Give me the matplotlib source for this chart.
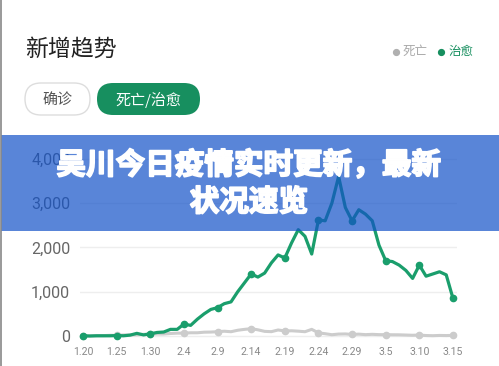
import numpy as np
import matplotlib.pyplot as plt
import matplotlib.patheffects as pe
from matplotlib.patches import FancyBboxPatch, Rectangle

plt.rcParams['font.family'] = ['Noto Sans CJK SC', 'DejaVu Sans']

# 每日新增（1.20 ~ 3.15）
cured = [5, 0, 5, 5, 5, 10, 5, 20, 60, 25,
         50, 80, 90, 150, 150, 270, 240, 380, 500, 600,
         640, 730, 770, 1000, 1200, 1400, 1330, 1420, 1650, 1830,
         1760, 2100, 2400, 2250, 1850, 2620, 2600, 3000, 3600, 2900,
         2600, 2850, 2750, 2600, 2050, 1700, 1680, 1600, 1480, 1300,
         1600, 1350, 1400, 1450, 1380, 850]
deaths = [3, 3, 8, 8, 16, 15, 24, 26, 26, 38,
          43, 46, 45, 57, 64, 65, 73, 73, 86, 89,
          97, 108, 97, 130, 150, 165, 140, 105, 98, 136,
          114, 118, 109, 97, 150, 71, 52, 29, 44, 47,
          35, 42, 31, 38, 31, 30, 28, 27, 22, 17,
          22, 11, 7, 13, 10, 14]
xticklabels = ['1.20', '1.25', '1.30', '2.4', '2.9', '2.14',
               '2.19', '2.24', '2.29', '3.5', '3.10', '3.15']
yticks = [0, 1000, 2000, 3000, 4000]
yticklabels = ['0', '1,000', '2,000', '3,000', '4,000']

W, H = 499, 366
GREEN = '#1a9e6c'
DARK_GREEN = '#178f5f'

def px_box(l, t, r, b):
    return [l / W, 1 - b / H, (r - l) / W, (b - t) / H]

fig = plt.figure(figsize=(W / 100, H / 100), dpi=100)

# 折线图
x = np.arange(len(cured))
ax = fig.add_axes(px_box(80, 155, 457, 340))
ax.set_xlim(-0.45, 55.6)
ax.set_ylim(-90, 4085)
ax.plot(x, deaths, color='#cccccc', lw=2.2, marker='o', ms=4.5, markevery=5,
        solid_joinstyle='round', clip_on=False, zorder=3)
ax.plot(x, cured, color=GREEN, lw=2.3, marker='o', ms=4.5, markevery=5,
        solid_joinstyle='round', clip_on=False, zorder=4)
ax.set_xticks(x[::5])
ax.set_xticklabels(xticklabels, family='Roboto', fontsize=7.6, color='#888888')
ax.set_yticks(yticks)
ax.set_yticklabels(yticklabels, family='Roboto', fontsize=11.5, color='#666666')
ax.tick_params(axis='x', length=0, pad=5)
ax.tick_params(axis='y', length=0, pad=7)
ax.grid(axis='y', color='#eeeeee', lw=1)
ax.set_axisbelow(True)
for s in ax.spines.values():
    s.set_visible(False)

# 标题、图例、按钮、横幅
ov = fig.add_axes([0, 0, 1, 1], zorder=5)
ov.set_xlim(0, W)
ov.set_ylim(H, 0)
ov.axis('off')

ov.plot([0.7, 0.7], [0, H], color='#888888', lw=1.2)
ov.text(25, 49, '新增趋势', fontsize=16.5, color='#222222', weight='medium',
        ha='left', va='center')

ov.plot([396], [51.5], 'o', ms=4.2, color='#b0b0b0')
ov.text(403, 51, '死亡', fontsize=9, color='#aaaaaa', ha='left', va='center')
ov.plot([441.5], [51.5], 'o', ms=4.2, color=DARK_GREEN)
ov.text(448, 51, '治愈', fontsize=9, color=DARK_GREEN, ha='left', va='center')

ov.add_patch(FancyBboxPatch((25, 83), 65, 32, boxstyle='round,pad=0,rounding_size=16',
                            fc='white', ec='#dddddd', lw=1))
ov.text(57.5, 99.5, '确诊', fontsize=10.8, color='#555555', ha='center', va='center')
ov.add_patch(FancyBboxPatch((97, 83), 103, 32, boxstyle='round,pad=0,rounding_size=16',
                            fc=DARK_GREEN, ec='none'))
ov.text(148.5, 99.5, '死亡/治愈', fontsize=10.8, color='white', ha='center', va='center')

ov.add_patch(Rectangle((1.5, 135), W, 96, fc=(19 / 255, 82 / 255, 200 / 255),
                       alpha=0.7, ec='none'))
bold = [pe.withStroke(linewidth=1.3, foreground='white')]
ov.text(249, 165, '吴川今日疫情实时更新，最新', fontsize=21.3, weight='heavy',
        color='white', ha='center', va='center', path_effects=bold)
ov.text(249, 202, '状况速览', fontsize=21.3, weight='heavy',
        color='white', ha='center', va='center', path_effects=bold)

fig.savefig('out.png', dpi=100)
